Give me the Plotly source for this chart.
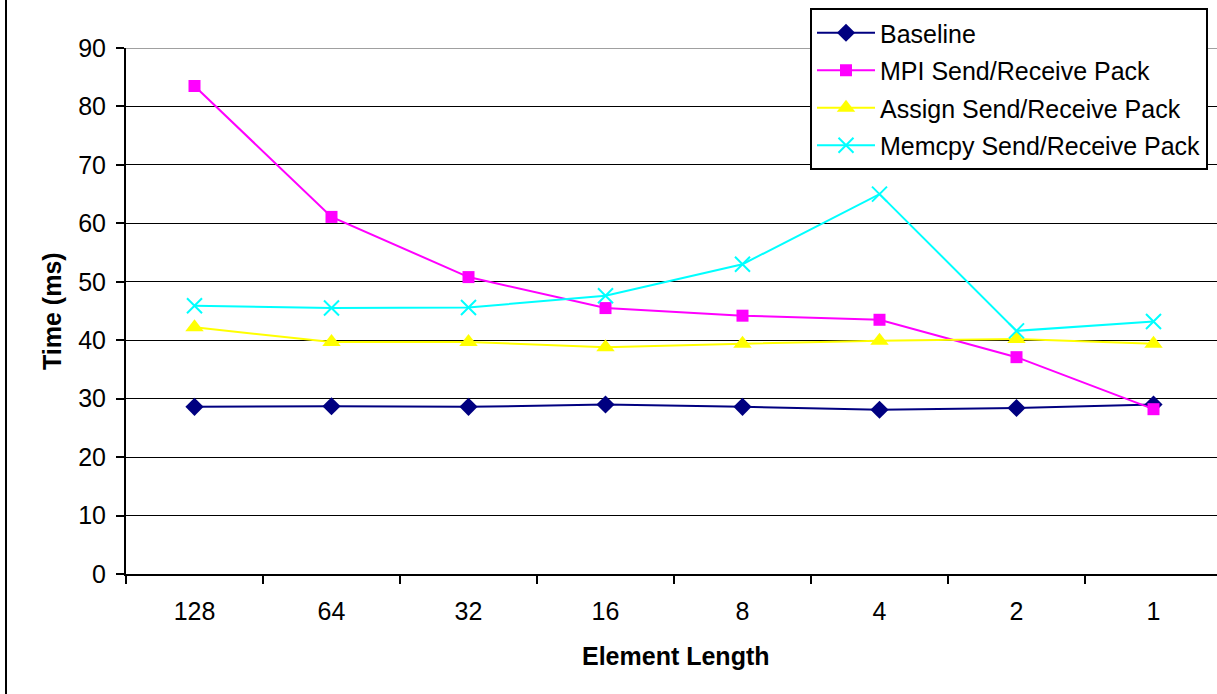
import plotly.graph_objects as go

categories = ["128", "64", "32", "16", "8", "4", "2", "1"]
baseline = [28.6, 28.7, 28.6, 29.0, 28.6, 28.1, 28.4, 29.0]
mpi_pack = [83.5, 61.1, 50.8, 45.5, 44.2, 43.5, 37.1, 28.2]
assign_pack = [42.2, 39.7, 39.7, 38.8, 39.4, 39.9, 40.2, 39.4]
memcpy_pack = [45.9, 45.5, 45.6, 47.6, 53.0, 65.0, 41.6, 43.2]
y_ticks = [0, 10, 20, 30, 40, 50, 60, 70, 80, 90]

FONT = "Liberation Sans, Arial, sans-serif"
FS = 25

series = [
    ("Baseline", baseline, "#000080", dict(symbol="diamond", size=14)),
    ("MPI Send/Receive Pack", mpi_pack, "#FF00FF", dict(symbol="square", size=12)),
    ("Assign Send/Receive Pack", assign_pack, "#FFFF00", dict(symbol="triangle-up", size=16)),
    ("Memcpy Send/Receive Pack", memcpy_pack, "#00FFFF", dict(symbol="x-thin-open", size=15, line=dict(width=2))),
]

fig = go.Figure()
for i, (name, vals, color, mk) in enumerate(series):
    m = dict(color=color, **mk)
    if "line" in m:
        m["line"]["color"] = color
    fig.add_trace(go.Scatter(
        x=categories, y=vals, name=name, mode="lines+markers",
        line=dict(color=color, width=2), marker=m,
        legendgroup=f"g{i}",
    ))

W, H = 1217, 694
L, R, T, B = 126, 0, 48, 120
pw = W - L - R
ph = H - T - B
cat_w = 137.0
right = -0.5 + pw / cat_w

fig.update_layout(
    width=W, height=H, autosize=False,
    margin=dict(l=L, r=R, t=T, b=B, pad=0),
    paper_bgcolor="white", plot_bgcolor="white",
    font=dict(family=FONT, size=FS, color="black"),
    showlegend=True,
    legend=dict(
        x=(810 - L) / pw, y=(574 - 8) / ph, xanchor="left", yanchor="top",
        bgcolor="white", bordercolor="black", borderwidth=2,
        font=dict(family=FONT, size=FS, color="black"),
        traceorder="grouped", tracegroupgap=2,
        itemwidth=58,
    ),
    xaxis=dict(
        type="category", categoryorder="array", categoryarray=categories,
        range=[-0.5, right], tickson="boundaries",
        ticks="outside", ticklen=8, tickwidth=2, tickcolor="black",
        showline=True, linecolor="black", linewidth=2,
        showgrid=False, zeroline=False,
        tickfont=dict(family=FONT, size=FS, color="black"),
        ticklabelstandoff=14,
    ),
    yaxis=dict(
        range=[0, 90], tickvals=y_ticks, ticktext=[str(v) for v in y_ticks],
        ticks="outside", ticklen=8, tickwidth=2, tickcolor="black",
        showline=True, linecolor="black", linewidth=2,
        showgrid=True, gridcolor="black", gridwidth=1, zeroline=False,
        tickfont=dict(family=FONT, size=FS, color="black"),
        ticklabelstandoff=5,
    ),
    annotations=[
        dict(text="<b>Time (ms)</b>", xref="paper", yref="paper",
             x=(52 - L) / pw, y=(574 - 311) / ph, textangle=-90,
             showarrow=False, xanchor="center", yanchor="middle",
             font=dict(family=FONT, size=FS, color="black")),
        dict(text="<b>Element Length</b>", xref="paper", yref="paper",
             x=(676 - L) / pw, y=(574 - 656) / ph,
             showarrow=False, xanchor="center", yanchor="middle",
             font=dict(family=FONT, size=FS, color="black")),
    ],
    shapes=[
        dict(type="line", xref="paper", yref="y", x0=0, x1=1, y0=90, y1=90,
             line=dict(color="#808080", width=1.5), layer="above"),
        dict(type="line", xref="paper", yref="paper",
             x0=(6 - L) / pw, x1=(6 - L) / pw, y0=(574 - 700) / ph, y1=(574 + 10) / ph,
             line=dict(color="black", width=2), layer="above"),
    ],
)

fig.write_html("out.html")
